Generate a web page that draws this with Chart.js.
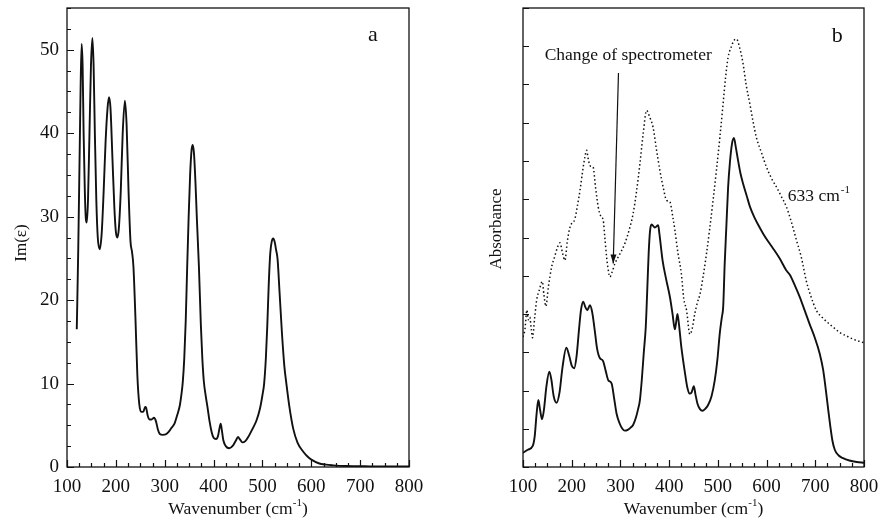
<!DOCTYPE html>
<html>
<head>
<meta charset="utf-8">
<script src="https://cdn.jsdelivr.net/npm/chart.js@4.4.0/dist/chart.umd.min.js"></script>
<style>
  html, body { margin: 0; padding: 0; background: #fff; }
  #wrap { position: relative; width: 878px; height: 529px; }
  #boxA { position: absolute; left: 0; top: 0; width: 440px; height: 529px; }
  #boxB { position: absolute; left: 440px; top: 0; width: 438px; height: 529px; }
</style>
</head>
<body>
<div id="wrap">
  <div id="boxA"><canvas id="graficoA" width="440" height="529"></canvas></div>
  <div id="boxB"><canvas id="graficoB" width="438" height="529"></canvas></div>
</div>
<script>
// --- painel a : Im(eps) ---
const aWn = [120, 123, 126, 128, 130, 132, 134, 136.5, 138.5, 140.5, 143, 146, 149, 152, 154.5, 157, 160, 163, 167, 171, 175, 179, 183, 186, 189, 193, 197, 200, 203, 206, 210, 214, 218.5, 222, 226, 230, 233, 236, 240, 244, 248, 252, 256, 260, 262, 265, 269, 273, 278, 282, 286, 290, 296, 302, 308, 314, 320, 326, 331, 334, 337, 340, 343, 346, 349, 352, 355, 357.5, 360, 363, 366, 370, 374, 377, 380, 384, 388, 392, 396, 400, 405, 409, 412, 414.5, 417, 420, 425, 432, 440, 446, 450, 454, 459, 465, 472, 480, 488, 495, 500, 503.5, 507, 510, 513, 516, 519, 522, 525, 528, 531, 535, 540, 545, 549, 555, 563, 572, 584, 595, 601, 615, 630, 645, 670, 720, 800];
const aIm = [16.5, 26, 38, 46, 50.7, 48, 40, 33, 29.8, 29.3, 32, 40, 48, 51.4, 48, 40, 32, 27.5, 26.1, 28, 33, 39, 43, 44.3, 43, 37, 31, 28.2, 27.5, 28.5, 33, 40, 43.9, 41, 33, 27, 25.8, 24, 18, 11, 7.5, 6.6, 6.6, 7.2, 7.1, 6.2, 5.7, 5.7, 5.9, 5.5, 4.5, 3.95, 3.85, 3.9, 4.2, 4.7, 5.2, 6.3, 7.4, 8.6, 10.2, 13, 17.5, 24, 30, 35, 38, 38.6, 37.5, 34, 29.5, 24, 17, 13, 10.3, 8.5, 7.0, 5.4, 4.2, 3.5, 3.35, 3.7, 4.6, 5.2, 4.4, 3.2, 2.5, 2.25, 2.6, 3.2, 3.6, 3.3, 2.95, 3.1, 3.7, 4.6, 5.6, 7.0, 8.6, 10, 13, 17, 22, 25.6, 27, 27.4, 27, 26, 24.9, 21, 16, 12, 10, 7.3, 4.6, 2.9, 1.8, 1.1, 0.85, 0.45, 0.28, 0.2, 0.12, 0.08, 0.06];

// --- painel b : absorbancia (linha cheia) ---
const bWn = [100, 110, 120, 124, 128, 131.5, 135, 139, 143, 148, 154, 158, 163, 169, 175, 181, 189, 195, 200, 205, 210, 215, 219, 223.7, 228, 232, 237.5, 242, 247, 252, 258, 264, 270, 275, 282, 287, 292, 298, 304, 309, 315, 321, 326, 332, 336, 340, 344, 348, 352, 355, 358, 361, 364, 370.7, 377.5, 380, 386.5, 394, 401.5, 407, 411.7, 414, 417, 420, 425, 432, 437, 442, 446, 450.7, 454, 458, 463, 468.5, 474, 480, 487, 493.7, 499, 504, 508, 511, 514, 517.5, 521, 525, 529, 533, 537, 541, 546, 552, 559, 566, 576, 585, 593, 603, 613, 627, 640, 648, 658, 668, 678, 688, 699, 709, 716, 722, 727, 731, 735, 740, 748, 757, 770, 785, 800];
const bSolid = [0.37, 0.45, 0.55, 0.8, 1.4, 1.75, 1.5, 1.25, 1.5, 2.1, 2.49, 2.3, 1.85, 1.68, 1.95, 2.6, 3.12, 2.9, 2.65, 2.58, 2.9, 3.6, 4.1, 4.32, 4.18, 4.1, 4.23, 4.05, 3.6, 3.1, 2.84, 2.78, 2.5, 2.27, 2.18, 1.8, 1.4, 1.15, 1.0, 0.95, 0.97, 1.03, 1.1, 1.3, 1.5, 1.75, 2.3, 3.0, 3.66, 4.6, 5.6, 6.2, 6.34, 6.26, 6.32, 6.1, 5.4, 4.9, 4.45, 4.0, 3.6, 3.75, 4.0, 3.75, 3.14, 2.5, 2.1, 1.92, 1.95, 2.11, 1.9, 1.66, 1.52, 1.47, 1.52, 1.62, 1.85, 2.27, 2.8, 3.5, 3.9, 4.2, 5.3, 6.3, 7.3, 8.0, 8.45, 8.6, 8.35, 8.05, 7.7, 7.4, 7.1, 6.8, 6.5, 6.28, 6.1, 5.9, 5.72, 5.45, 5.15, 5.02, 4.75, 4.45, 4.1, 3.75, 3.38, 2.97, 2.55, 1.98, 1.45, 1.05, 0.7, 0.45, 0.3, 0.23, 0.17, 0.13, 0.11];

// --- painel b : absorbancia (pontilhada, 633 cm-1) ---
const cWn = [100, 104, 108, 111, 114, 117, 119.5, 124, 128, 134, 139.5, 143, 147, 152, 158.8, 165, 171, 176, 181, 186, 191, 196.4, 206.6, 212, 217, 222, 227, 230.6, 234, 237.4, 241, 244, 249, 254.4, 260, 264.7, 268, 271.6, 275, 278.4, 283, 288.7, 298, 309, 318, 326, 333, 340, 346.7, 353.7, 360, 367, 374, 381, 388, 394.7, 401.5, 408, 411.7, 418, 425, 430, 435.7, 442.5, 447, 452.7, 458, 463, 470, 476.7, 483, 490, 497, 504, 510.8, 516, 521, 528, 533, 538, 545, 551.8, 558, 565.6, 572, 579, 590, 599.8, 610, 620.3, 630, 640.8, 651, 661.3, 671, 681.8, 690, 702, 715, 736.4, 750, 765, 780, 794.6, 800];
const cDotted = [3.4, 3.6, 4.1, 3.85, 3.92, 3.6, 3.38, 3.9, 4.36, 4.65, 4.85, 4.5, 4.2, 4.7, 5.23, 5.5, 5.75, 5.86, 5.6, 5.4, 5.9, 6.27, 6.49, 6.85, 7.23, 7.7, 8.1, 8.28, 8.05, 7.88, 7.86, 7.84, 7.3, 6.8, 6.55, 6.45, 6.0, 5.49, 5.15, 4.97, 5.1, 5.32, 5.55, 5.84, 6.2, 6.62, 7.2, 7.93, 8.71, 9.32, 9.15, 8.88, 8.3, 7.75, 7.3, 6.97, 6.93, 6.5, 6.2, 5.6, 5.06, 4.4, 4.1, 3.47, 3.6, 4.01, 4.3, 4.5, 5.0, 5.58, 6.2, 6.95, 7.75, 8.6, 9.5, 10.2, 10.71, 11.0, 11.15, 11.19, 10.95, 10.54, 10.0, 9.5, 9.05, 8.62, 8.2, 7.84, 7.55, 7.32, 7.08, 6.8, 6.4, 5.93, 5.5, 4.85, 4.5, 4.1, 3.9, 3.66, 3.52, 3.42, 3.33, 3.27, 3.25];

// eixos
const xMin = 100, xMax = 800, xStep = 25, xMajor = 100;
const aYMin = 0, aYMax = 55, aYStep = 2.5, aYMajor = 10;
const bYMin = 0, bYMax = 12, bYStep = 1;

const FONTE = '"Liberation Serif", "Times New Roman", serif';
const TINTA = '#111';

function pares(xs, ys) {
    return xs.map((x, i) => ({ x: x, y: ys[i] }));
}

// moldura, ticks para dentro e textos
const molduraPlugin = {
    id: 'moldura',
    afterDraw(chart, args, opts) {
        const ctx = chart.ctx;
        const area = chart.chartArea;
        const sx = chart.scales.x, sy = chart.scales.y;
        ctx.save();
        ctx.strokeStyle = TINTA;
        ctx.lineWidth = 1.3;
        ctx.strokeRect(area.left, area.top, area.right - area.left, area.bottom - area.top);

        ctx.lineWidth = 1.2;
        ctx.beginPath();
        sx.ticks.forEach(t => {
            const px = Math.round(sx.getPixelForValue(t.value)) + 0.5;
            const len = (t.value % xMajor === 0) ? 7 : 4;
            ctx.moveTo(px, area.bottom);
            ctx.lineTo(px, area.bottom - len);
        });
        sy.ticks.forEach(t => {
            const py = Math.round(sy.getPixelForValue(t.value)) + 0.5;
            const len = opts.yMajor ? ((t.value % opts.yMajor === 0) ? 7 : 4) : 6;
            ctx.moveTo(area.left, py);
            ctx.lineTo(area.left + len, py);
        });
        ctx.stroke();

        // titulo do eixo x com expoente
        ctx.fillStyle = TINTA;
        ctx.textBaseline = 'alphabetic';
        const cx = (area.left + area.right) / 2;
        const ty = 514;
        const p1 = 'Wavenumber (cm', p3 = ')';
        ctx.font = '11px ' + FONTE;
        const w2 = ctx.measureText('-1').width;
        ctx.font = '17.5px ' + FONTE;
        const w1 = ctx.measureText(p1).width, w3 = ctx.measureText(p3).width;
        let x0 = cx - (w1 + w2 + w3) / 2;
        ctx.textAlign = 'left';
        ctx.fillText(p1, x0, ty);
        ctx.font = '11px ' + FONTE;
        ctx.fillText('-1', x0 + w1, ty - 8);
        ctx.font = '17.5px ' + FONTE;
        ctx.fillText(p3, x0 + w1 + w2, ty);

        // titulo do eixo y
        ctx.save();
        ctx.translate(opts.yTitleX, opts.yTitleY);
        ctx.rotate(-Math.PI / 2);
        ctx.textAlign = 'center';
        ctx.font = '17px ' + FONTE;
        ctx.fillText(opts.yTitle, 0, 0);
        ctx.restore();

        // letra do painel
        ctx.font = '22px ' + FONTE;
        ctx.textAlign = 'left';
        ctx.fillText(opts.letra.t, sx.getPixelForValue(opts.letra.x), sy.getPixelForValue(opts.letra.y));

        if (opts.extra) opts.extra(ctx, sx, sy);
        ctx.restore();
    }
};

function opcoes(yMin, yMax, yStep, mostrarY, yMajor, yLargura, direita, plug) {
    return {
        responsive: false,
        animation: false,
        layout: { padding: { top: 8, right: direita, bottom: 0, left: 0 } },
        plugins: {
            legend: { display: false },
            tooltip: { enabled: false },
            moldura: plug
        },
        elements: { point: { radius: 0 } },
        scales: {
            x: {
                type: 'linear',
                min: xMin, max: xMax,
                grid: { display: false, drawTicks: false },
                border: { display: false },
                // sem folga extra para o rotulo "800"
                afterFit: s => { s.height = 62; s.paddingLeft = 0; s.paddingRight = 0; },
                ticks: {
                    stepSize: xStep,
                    autoSkip: false,
                    maxRotation: 0,
                    padding: 9,
                    color: TINTA,
                    font: { family: FONTE, size: 19 },
                    callback: v => (v % xMajor === 0 ? String(v) : '')
                }
            },
            y: {
                type: 'linear',
                min: yMin, max: yMax,
                grid: { display: false, drawTicks: false },
                border: { display: false },
                afterFit: s => { s.width = yLargura; s.paddingTop = 0; s.paddingBottom = 0; },
                ticks: {
                    stepSize: yStep,
                    autoSkip: false,
                    padding: 8,
                    color: TINTA,
                    font: { family: FONTE, size: 19 },
                    callback: v => (mostrarY && v % yMajor === 0 ? String(v) : '')
                }
            }
        }
    };
}

document.addEventListener('DOMContentLoaded', () => {

    // --- grafico a ---
    new Chart(document.getElementById('graficoA'), {
        type: 'line',
        data: {
            datasets: [{
                data: pares(aWn, aIm),
                borderColor: TINTA,
                borderWidth: 1.9,
                cubicInterpolationMode: 'monotone',
                fill: false
            }]
        },
        options: opcoes(aYMin, aYMax, aYStep, true, aYMajor, 67, 31, {
            yMajor: aYMajor,
            yTitle: 'Im(\u03b5)',
            yTitleX: 26, yTitleY: 243,
            letra: { t: 'a', x: 716, y: 51.0 }
        }),
        plugins: [molduraPlugin]
    });

    // --- grafico b ---
    new Chart(document.getElementById('graficoB'), {
        type: 'line',
        data: {
            datasets: [{
                data: pares(cWn, cDotted),
                borderColor: TINTA,
                borderWidth: 1.5,
                borderDash: [1.5, 2.5],
                cubicInterpolationMode: 'monotone',
                fill: false
            }, {
                data: pares(bWn, bSolid),
                borderColor: TINTA,
                borderWidth: 1.9,
                cubicInterpolationMode: 'monotone',
                fill: false
            }]
        },
        options: opcoes(bYMin, bYMax, bYStep, false, 1, 83, 14, {
            yMajor: 0,
            yTitle: 'Absorbance',
            yTitleX: 61, yTitleY: 229,
            letra: { t: 'b', x: 733.7, y: 11.1 },
            extra: (ctx, sx, sy) => {
                // "Change of spectrometer" e a seta
                ctx.font = '17.5px ' + FONTE;
                ctx.textAlign = 'center';
                ctx.fillText('Change of spectrometer', sx.getPixelForValue(316), sy.getPixelForValue(10.63));
                const x1 = sx.getPixelForValue(296), y1 = sy.getPixelForValue(10.3);
                const x2 = sx.getPixelForValue(285.2), y2 = sy.getPixelForValue(5.32);
                ctx.lineWidth = 1.2;
                ctx.beginPath();
                ctx.moveTo(x1, y1);
                ctx.lineTo(x2, y2);
                ctx.stroke();
                const ang = Math.atan2(y2 - y1, x2 - x1);
                ctx.beginPath();
                ctx.moveTo(x2, y2);
                ctx.lineTo(x2 - 9 * Math.cos(ang) + 3 * Math.sin(ang), y2 - 9 * Math.sin(ang) - 3 * Math.cos(ang));
                ctx.lineTo(x2 - 9 * Math.cos(ang) - 3 * Math.sin(ang), y2 - 9 * Math.sin(ang) + 3 * Math.cos(ang));
                ctx.closePath();
                ctx.fill();

                // "633 cm-1"
                const lx = sx.getPixelForValue(643.5), ly = sy.getPixelForValue(6.95);
                ctx.textAlign = 'left';
                ctx.font = '17.5px ' + FONTE;
                const t1 = '633 cm';
                ctx.fillText(t1, lx, ly);
                const w = ctx.measureText(t1).width;
                ctx.font = '11px ' + FONTE;
                ctx.fillText('-1', lx + w + 1, ly - 8);
            }
        }),
        plugins: [molduraPlugin]
    });
});
</script>
</body>
</html>
